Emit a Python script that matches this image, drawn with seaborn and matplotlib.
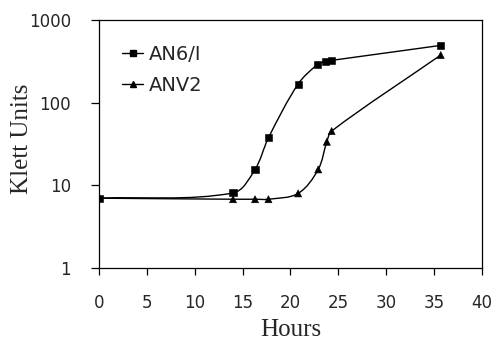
import numpy as np
import pandas as pd
import matplotlib
matplotlib.use("Agg")
import matplotlib.pyplot as plt
from matplotlib.path import Path
from matplotlib.patches import PathPatch
from matplotlib.lines import Line2D
import seaborn as sns

# values
hours_an6 = [0, 14, 16.3, 17.7, 20.8, 22.8, 23.7, 24.3, 35.7]
klett_an6 = [7.0, 8.1, 15.6, 37.6, 168, 288, 318, 325, 493]
hours_anv2 = [0, 14, 16.3, 17.7, 20.8, 22.9, 23.8, 24.3, 35.7]
klett_anv2 = [7.0, 6.8, 6.8, 6.8, 8.0, 15.6, 33.7, 45.4, 377]

df = pd.concat([
    pd.DataFrame({"Hours": hours_an6, "Klett": klett_an6, "strain": "AN6/I"}),
    pd.DataFrame({"Hours": hours_anv2, "Klett": klett_anv2, "strain": "ANV2"}),
])

sns.set_style("ticks")
plt.rcParams["font.family"] = ["DejaVu Sans"]

fig = plt.figure(figsize=(4.96, 3.45), dpi=100)
ax = fig.add_axes([0.1996, 0.223, 0.772, 0.719])
ax.set_yscale("log")
ax.set_xlim(0, 40)
ax.set_ylim(1, 1000)

# rough pixel scale of the plot box, used only to shape the smoothing
SX, SY = 383 / 40, 248 / 3


def smooth_path(xs, ys):
    # spreadsheet-style smoothed line: bezier segments, tangent from neighbours,
    # handle length a third of the segment so nothing loops back
    p = np.column_stack([np.asarray(xs, float) * SX, np.log10(ys) * SY])
    n = len(p)
    t = np.zeros_like(p)
    for i in range(n):
        a, b = p[max(i - 1, 0)], p[min(i + 1, n - 1)]
        v = b - a
        t[i] = v / np.hypot(*v)
    verts = [p[0]]
    codes = [Path.MOVETO]
    for i in range(n - 1):
        L = np.hypot(*(p[i + 1] - p[i])) / 3
        verts += [p[i] + t[i] * L, p[i + 1] - t[i + 1] * L, p[i + 1]]
        codes += [Path.CURVE4] * 3
    verts = np.array(verts)
    verts = np.column_stack([verts[:, 0] / SX, 10 ** (verts[:, 1] / SY)])
    return Path(verts, codes)


for xs, ys in [(hours_an6, klett_an6), (hours_anv2, klett_anv2)]:
    ax.add_patch(PathPatch(smooth_path(xs, ys), fill=False, edgecolor="black", lw=1.0, zorder=2))

sns.scatterplot(data=df, x="Hours", y="Klett", style="strain", markers={"AN6/I": "s", "ANV2": "^"},
                color="black", edgecolor="black", s=26, legend=False, ax=ax, zorder=3)

ax.set_xticks(range(0, 41, 5))
ax.set_yticks([1, 10, 100, 1000])
ax.set_yticklabels(["1", "10", "100", "1000"])
ax.yaxis.set_minor_locator(matplotlib.ticker.NullLocator())
ax.tick_params(axis="both", labelsize=12, width=0.9, color="black")
ax.tick_params(axis="x", length=5, pad=14)
ax.tick_params(axis="y", length=6, pad=14)
for s in ax.spines.values():
    s.set_linewidth(0.9)
    s.set_color("black")

ax.set_xlabel("Hours", fontsize=18, family="Liberation Serif")
ax.set_ylabel("Klett Units", fontsize=18, family="Liberation Serif")
ax.xaxis.set_label_coords(0.5, -0.206)
ax.yaxis.set_label_coords(-0.172, 0.52)

handles = [Line2D([], [], color="black", marker="s", ms=4.5, lw=1.0),
           Line2D([], [], color="black", marker="^", ms=5, lw=1.0)]
ax.legend(handles, ["AN6/I", "ANV2"], loc="upper left", bbox_to_anchor=(0.04, 0.93), frameon=False,
          fontsize=14, handlelength=1.1, handletextpad=0.3, labelspacing=0.6, borderaxespad=0)

fig.savefig("out.png", dpi=100)
